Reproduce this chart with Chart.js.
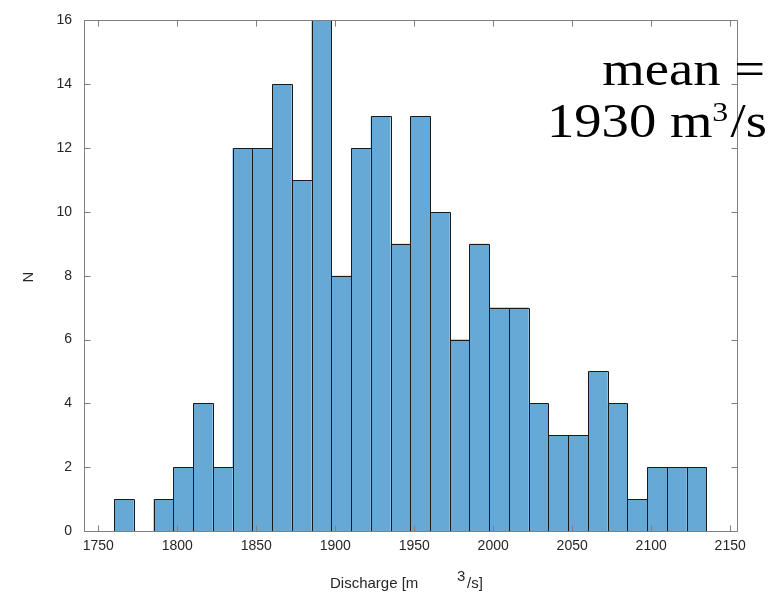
<!DOCTYPE html>
<html>
<head>
<meta charset="utf-8">
<script src="https://cdn.jsdelivr.net/npm/chart.js@4/dist/chart.umd.min.js"></script>
<style>
  html, body { margin: 0; padding: 0; background: #fff; }
  #wrap { width: 773px; height: 594px; position: relative; }
</style>
</head>
<body>
<div id="wrap"><canvas id="c" width="773" height="594"></canvas></div>
<script>
// Histogram of discharge: bin centres (bin width 12.5 m^3/s) and counts
const binCenters = [1766.25, 1778.75, 1791.25, 1803.75, 1816.25, 1828.75, 1841.25, 1853.75,
                    1866.25, 1878.75, 1891.25, 1903.75, 1916.25, 1928.75, 1941.25, 1953.75,
                    1966.25, 1978.75, 1991.25, 2003.75, 2016.25, 2028.75, 2041.25, 2053.75,
                    2066.25, 2078.75, 2091.25, 2103.75, 2116.25, 2128.75];
const counts = [1, 0, 1, 2, 4, 2, 12, 12, 14, 11, 16, 8, 12, 13, 9, 13,
                10, 6, 9, 7, 7, 4, 3, 3, 5, 4, 1, 2, 2, 2];
const xTicks = [1750, 1800, 1850, 1900, 1950, 2000, 2050, 2100, 2150];
const yTicks = [0, 2, 4, 6, 8, 10, 12, 14, 16];
const meanValue = 1930;

const barFill = '#66a9d7';
const barEdge = '#1a1a1a';
const axisColor = '#7f7f7f';
const textColor = '#262626';
const sans = '"Liberation Sans", Arial, sans-serif';
const serif = '"Liberation Serif", "Times New Roman", serif';

// Crisp 1px outlines around each histogram bar, taken from the bar elements
const outlinePlugin = {
  id: 'outline',
  afterDatasetsDraw(chart) {
    const { ctx } = chart;
    const meta = chart.getDatasetMeta(0);
    ctx.save();
    ctx.strokeStyle = barEdge;
    ctx.lineWidth = 1;
    ctx.beginPath();
    meta.data.forEach((bar, i) => {
      if (!counts[i]) return;
      const p = bar.getProps(['x', 'y', 'base', 'width'], true);
      const l = Math.round(p.x - p.width / 2) + 0.5;
      const r = Math.round(p.x + p.width / 2) + 0.5;
      const t = Math.round(p.y) + 0.5;
      const b = Math.round(p.base) + 0.5;
      ctx.moveTo(l, b); ctx.lineTo(l, t); ctx.lineTo(r, t); ctx.lineTo(r, b);
    });
    ctx.stroke();
    ctx.restore();
  }
};

// Axes box with inward tick marks on all four sides
const framePlugin = {
  id: 'frame',
  afterDatasetsDraw(chart) {
    const { ctx, chartArea: a, scales } = chart;
    const L = Math.round(a.left) + 0.5, R = Math.round(a.right) + 0.5;
    const T = Math.round(a.top) + 0.5, B = Math.round(a.bottom) + 0.5;
    const tl = 6;
    ctx.save();
    ctx.strokeStyle = axisColor;
    ctx.lineWidth = 1;
    ctx.beginPath();
    ctx.rect(L, T, R - L, B - T);
    xTicks.forEach(v => {
      const px = Math.round(scales.x.getPixelForValue(v)) + 0.5;
      ctx.moveTo(px, B); ctx.lineTo(px, B - tl);
      ctx.moveTo(px, T); ctx.lineTo(px, T + tl);
    });
    yTicks.forEach(v => {
      const py = Math.round(scales.y.getPixelForValue(v)) + 0.5;
      ctx.moveTo(L, py); ctx.lineTo(L + tl, py);
      ctx.moveTo(R, py); ctx.lineTo(R - tl, py);
    });
    ctx.stroke();
    ctx.restore();
  }
};

// Axis titles and the mean annotation
const labelPlugin = {
  id: 'labels',
  afterDraw(chart) {
    const { ctx } = chart;
    ctx.save();
    ctx.fillStyle = textColor;
    ctx.textBaseline = 'alphabetic';

    // x-axis title with superscript exponent
    ctx.font = '15px ' + sans;
    ctx.textAlign = 'left';
    ctx.fillText('Discharge [m', 330, 588);
    ctx.fillText('3', 457, 581);
    ctx.fillText('/s]', 467, 588);

    // y-axis title
    ctx.save();
    ctx.translate(33, 277);
    ctx.rotate(-Math.PI / 2);
    ctx.textAlign = 'center';
    ctx.fillText('N', 0, 0);
    ctx.restore();

    // mean annotation
    ctx.fillStyle = '#000';
    const bigF = '48px ' + serif, supF = '28px ' + serif;
    const a1 = meanValue + ' m', a2 = '3', a3 = '/s';
    ctx.font = bigF; const w1 = ctx.measureText(a1).width, w3 = ctx.measureText(a3).width;
    ctx.font = supF; const w2 = ctx.measureText(a2).width + 2;
    const total = w1 + w2 + w3;
    const sx = 220 / total;
    ctx.save();
    ctx.translate(767 - total * sx, 0);
    ctx.scale(sx, 1);
    ctx.font = bigF; ctx.fillText(a1, 0, 137);
    ctx.font = supF; ctx.fillText(a2, w1, 121);
    ctx.font = bigF; ctx.fillText(a3, w1 + w2, 137);
    ctx.restore();

    ctx.font = bigF;
    const m1 = 'mean =';
    const mw = ctx.measureText(m1).width;
    ctx.save();
    ctx.translate(765 - mw * sx, 0);
    ctx.scale(sx, 1);
    ctx.fillText(m1, 0, 85);
    ctx.restore();

    ctx.restore();
  }
};

new Chart(document.getElementById('c'), {
  type: 'bar',
  data: {
    datasets: [{
      data: binCenters.map((x, i) => ({ x: x, y: counts[i] })),
      backgroundColor: barFill,
      borderWidth: 0,
      inflateAmount: 0,
      categoryPercentage: 1,
      barPercentage: 1
    }]
  },
  options: {
    responsive: false,
    animation: false,
    devicePixelRatio: 1,
    layout: { padding: { top: 17, right: 36.5, left: 0, bottom: 0 } },
    plugins: { legend: { display: false }, tooltip: { enabled: false } },
    scales: {
      x: {
        type: 'linear',
        offset: false,
        min: 1741,
        max: 2154,
        afterBuildTicks: s => { s.ticks = xTicks.map(v => ({ value: v })); },
        afterFit: s => { s.height = 63; },
        grid: { display: false, drawTicks: false, offset: false },
        border: { display: false },
        ticks: {
          color: textColor,
          font: { family: sans, size: 14 },
          padding: 7,
          maxRotation: 0,
          autoSkip: false,
          callback: v => String(v)
        }
      },
      y: {
        min: 0,
        max: 16,
        afterBuildTicks: s => { s.ticks = yTicks.map(v => ({ value: v })); },
        afterFit: s => { s.width = 84; },
        grid: { display: false, drawTicks: false },
        border: { display: false },
        ticks: {
          color: textColor,
          font: { family: sans, size: 14 },
          padding: 12,
          callback: v => String(v)
        }
      }
    }
  },
  plugins: [outlinePlugin, framePlugin, labelPlugin]
});
</script>
</body>
</html>
